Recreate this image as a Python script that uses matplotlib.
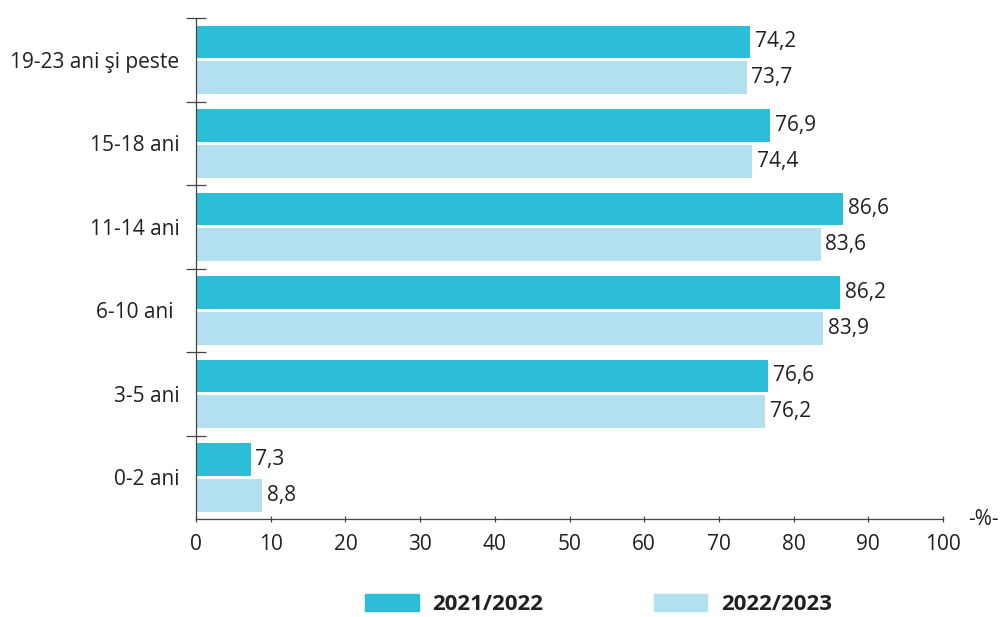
import matplotlib.pyplot as plt
from matplotlib.patches import Patch
import numpy as np

plt.rcParams['font.family'] = ['Open Sans', 'DejaVu Sans']

# Date
categorii = ['0-2 ani', '3-5 ani', '6-10 ani ', '11-14 ani', '15-18 ani', '19-23 ani şi peste']
an_2021 = [7.3, 76.6, 86.2, 86.6, 76.9, 74.2]
an_2022 = [8.8, 76.2, 83.9, 83.6, 74.4, 73.7]
serii = ['2021/2022', '2022/2023']

c_inchis = '#2cbdd8'
c_deschis = '#b2e0ee'
text_col = '#231f20'

fig = plt.figure(figsize=(10.01, 6.17), dpi=100)
ax = fig.add_axes([0.1958, 0.1588, 0.7463, 0.8120])

y = np.arange(len(categorii))
h = 0.39
gap = 0.02
b1 = ax.barh(y + gap + h / 2, an_2021, height=h, color=c_inchis)
b2 = ax.barh(y - gap - h / 2, an_2022, height=h, color=c_deschis)

def fmt(v):
    return f'{v:.1f}'.replace('.', ',')

# etichete cu valori
for bars, vals in ((b1, an_2021), (b2, an_2022)):
    for bar, v in zip(bars, vals):
        ax.annotate(fmt(v), (v, bar.get_y() + bar.get_height() / 2),
                    xytext=(3.5, 0), textcoords='offset points',
                    va='center', ha='left', fontsize=15, color=text_col)

ax.set_xlim(0, 100)
ax.set_ylim(-0.5, len(categorii) - 0.5)
ax.set_xticks(np.arange(0, 101, 10))
ax.set_yticks(y)
ax.set_yticklabels(categorii)
ax.set_yticks(np.arange(-0.5, len(categorii), 1.0)[1:], minor=True)

for s in ('top', 'right'):
    ax.spines[s].set_visible(False)
for s in ('left', 'bottom'):
    ax.spines[s].set_color('#444444')
    ax.spines[s].set_linewidth(0.9)

ax.tick_params(axis='y', which='major', length=0, pad=12, labelsize=15, labelcolor=text_col)
ax.tick_params(axis='y', which='minor', direction='inout', length=14, width=0.9, color='#444444')
ax.tick_params(axis='x', direction='inout', length=5, width=0.9, color='#444444',
               pad=8, labelsize=15, labelcolor=text_col)

fig.text(0.967, 0.158, '-%-', fontsize=15, color=text_col, ha='left', va='center')

handles = [Patch(color=c_inchis), Patch(color=c_deschis)]
leg = fig.legend(handles, serii, loc='center', bbox_to_anchor=(0.598, 0.02), ncol=2,
                 frameon=False, handlelength=2.4, handleheight=0.8, handletextpad=0.6,
                 columnspacing=5.0, borderpad=0.2, prop={'weight': 'bold', 'size': 16})
for t in leg.get_texts():
    t.set_color(text_col)

fig.savefig('out.png', dpi=100)
